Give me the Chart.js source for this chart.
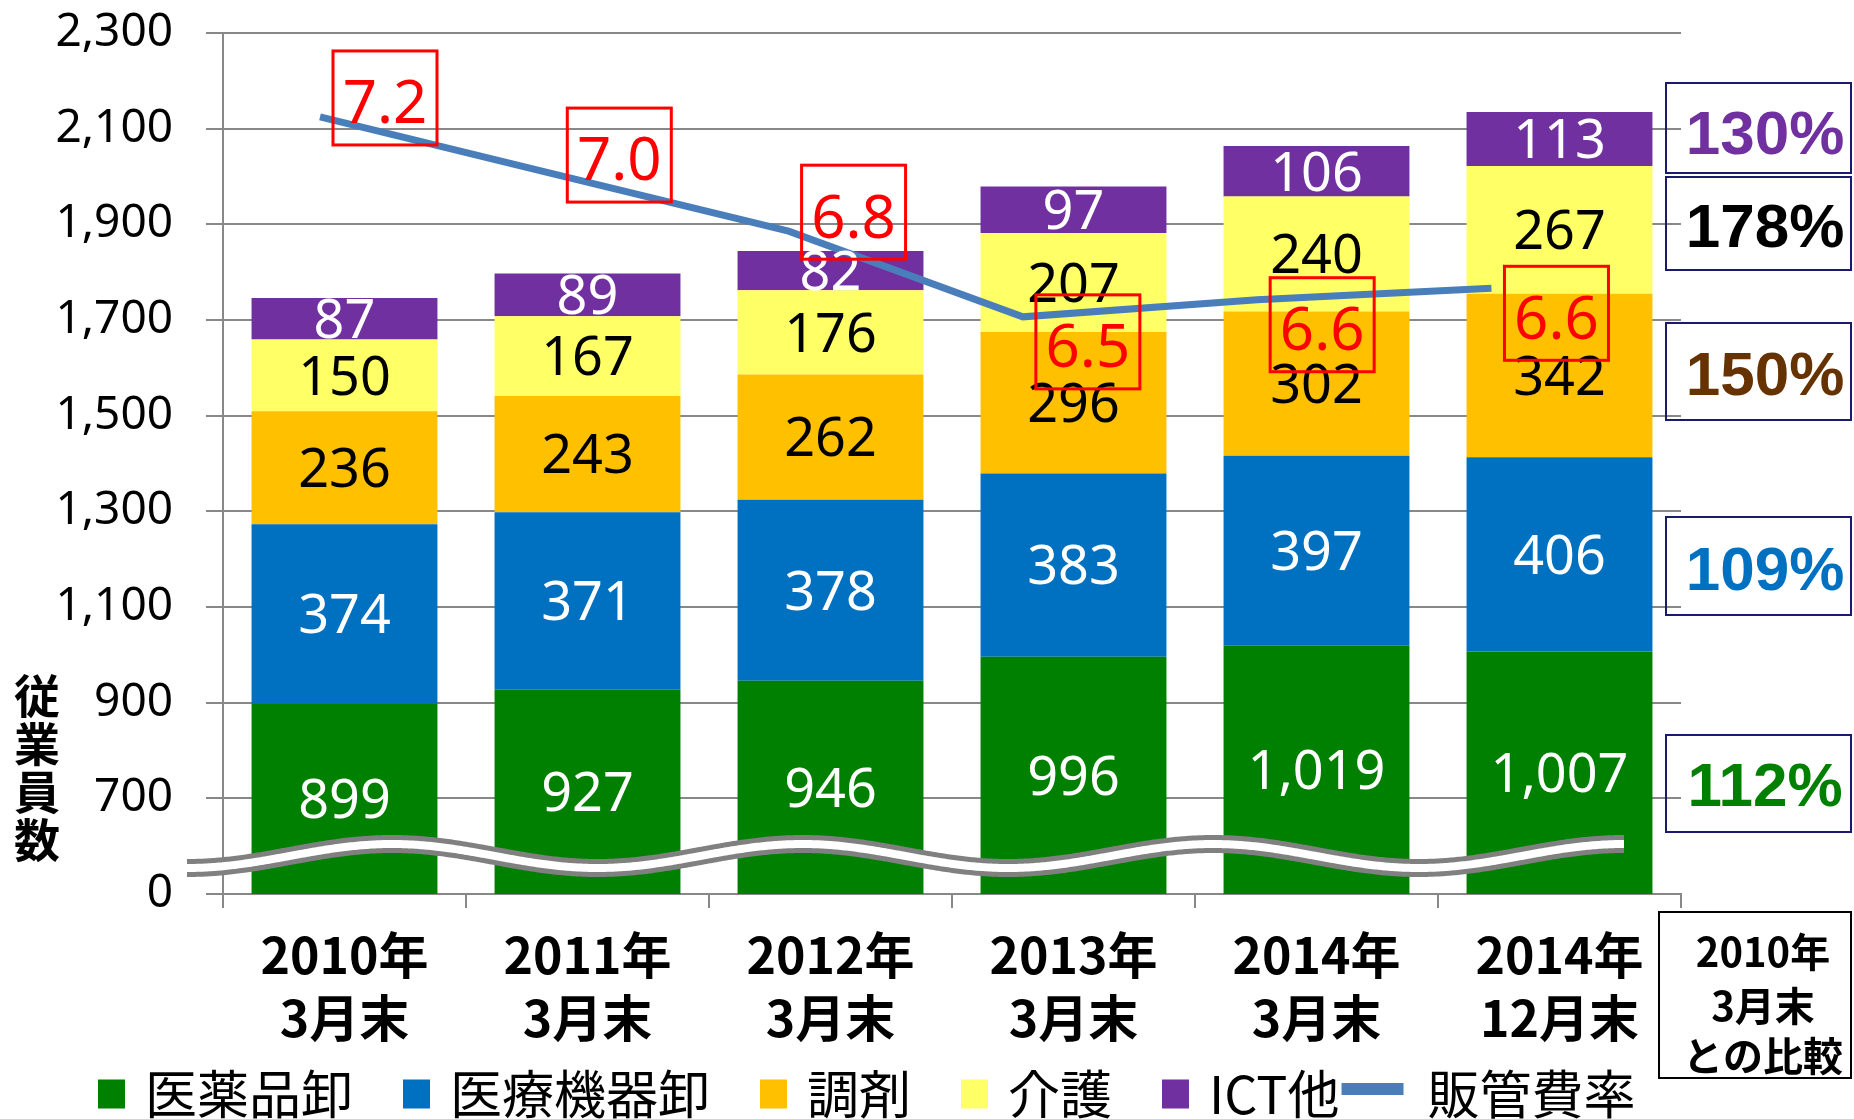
<!DOCTYPE html>
<html>
<head>
<meta charset="utf-8">
<script src="https://cdn.jsdelivr.net/npm/chart.js@4.4.0/dist/chart.umd.min.js"></script>
<style>
  html, body { margin: 0; padding: 0; background: #fff; }
  canvas { display: block; }
</style>
</head>
<body>
<canvas id="staff" width="1854" height="1119"></canvas>
<script>
// categories (two-line tick labels)
const categories = [['2010年', '3月末'], ['2011年', '3月末'], ['2012年', '3月末'],
                    ['2013年', '3月末'], ['2014年', '3月末'], ['2014年', '12月末']];

// stacked bar series (employees)
const drugWholesale   = [899, 927, 946, 996, 1019, 1007];
const deviceWholesale = [374, 371, 378, 383, 397, 406];
const pharmacy        = [236, 243, 262, 296, 302, 342];
const nursing         = [150, 167, 176, 207, 240, 267];
const ictOther        = [87, 89, 82, 97, 106, 113];

// line series (SG&A ratio)
const sgaRatio = [7.2, 7.0, 6.8, 6.5, 6.56, 6.6];

const seriesNames = ['医薬品卸', '医療機器卸', '調剤', '介護', 'ICT他', '販管費率'];

// broken y axis: bottom tick reads 0
const yTickLabels = ['0', '700', '900', '1,100', '1,300', '1,500', '1,700', '1,900', '2,100', '2,300'];

// comparison with 2010/3 (right side)
const compareLabels = ['130%', '178%', '150%', '109%', '112%'];
const compareNote = ['2010年', '3月末', 'との比較'];

const barColors = ['#008000', '#0070C0', '#FFC000', '#FFFF66', '#7030A0'];
const barTextColors = ['#fff', '#fff', '#000', '#000', '#fff'];
const lineColor = '#4A7EBB';
const compareColors = ['#7030A0', '#000000', '#663300', '#0070C0', '#008000'];

const NUM_FONT = '"Noto Sans", sans-serif';
const JP_FONT = '"Noto Sans CJK JP", sans-serif';

const overlay = {
  id: 'overlay',
  afterDatasetsDraw(chart) {
    const ctx = chart.ctx;
    const area = chart.chartArea;

    // wavy axis break ribbon
    ctx.save();
    const x0 = area.left - 36, x1 = area.right - 57;
    const yc = area.bottom - 38, amp = 12, period = (x1 - x0) / 3.5;
    ctx.beginPath();
    for (let x = x0; x < x1; x += 2) {
      const y = yc + amp * Math.cos(2 * Math.PI * (x - x0) / period);
      if (x === x0) ctx.moveTo(x, y); else ctx.lineTo(x, y);
    }
    ctx.lineTo(x1, yc + amp * Math.cos(2 * Math.PI * (x1 - x0) / period));
    ctx.lineCap = 'butt';
    ctx.strokeStyle = '#808080';
    ctx.lineWidth = 18;
    ctx.stroke();
    ctx.strokeStyle = '#ffffff';
    ctx.lineWidth = 8;
    ctx.stroke();

    // values inside bar segments
    ctx.font = '54px ' + NUM_FONT;
    ctx.textAlign = 'center';
    ctx.textBaseline = 'alphabetic';
    for (let d = 0; d < 5; d++) {
      const meta = chart.getDatasetMeta(d);
      const vals = chart.data.datasets[d].data;
      meta.data.forEach((bar, i) => {
        const bottom = Math.min(bar.base, area.bottom);
        const cy = (bar.y + bottom) / 2;
        ctx.fillStyle = barTextColors[d];
        ctx.fillText(vals[i].toLocaleString('en-US'), bar.x, cy + 0.357 * 54);
      });
    }

    // red boxed ratio labels
    const lm = chart.getDatasetMeta(5);
    ctx.font = '60px ' + NUM_FONT;
    lm.data.forEach((pt, i) => {
      const cx = pt.x + 65;
      const cy = pt.y + (i < 3 ? -19 : 25);
      ctx.strokeStyle = '#ff0000';
      ctx.lineWidth = 3;
      ctx.strokeRect(cx - 52, cy - 47, 104, 94);
      ctx.fillStyle = '#ff0000';
      ctx.fillText(sgaRatio[i].toFixed(1), cx, cy + 4 + 0.357 * 60);
    });
    ctx.restore();
  },
  afterDraw(chart) {
    const ctx = chart.ctx;
    ctx.save();

    // right side comparison boxes
    const boxes = [[83, 173, 132], [177, 270, 225], [323, 420, 373], [517, 615, 568], [735, 832, 784]];
    ctx.lineWidth = 2;
    boxes.forEach((b, i) => {
      ctx.strokeStyle = '#1a1a6e';
      ctx.strokeRect(1666, b[0], 185, b[1] - b[0]);
      ctx.fillStyle = compareColors[i];
      ctx.font = 'bold 62px "Liberation Sans", Arial, sans-serif';
      ctx.textAlign = 'center';
      ctx.textBaseline = 'alphabetic';
      ctx.fillText(compareLabels[i], 1765, b[2] + 0.358 * 62);
    });

    // note box
    ctx.strokeStyle = '#000';
    ctx.strokeRect(1659, 912, 192, 166);
    ctx.fillStyle = '#000';
    ctx.font = 'bold 40px ' + JP_FONT;
    ctx.textBaseline = 'middle';
    [952, 1006, 1056].forEach((y, i) => ctx.fillText(compareNote[i], 1763, y));

    // vertical y title
    ctx.font = 'bold 46px ' + JP_FONT;
    [...'従業員数'].forEach((ch, i) => ctx.fillText(ch, 37, 696 + i * 47.7));

    // legend
    ctx.font = '52px ' + JP_FONT;
    ctx.textAlign = 'left';
    const ly = 1094;
    let x = 98;
    chart.data.datasets.forEach((ds, d) => {
      if (ds.type === 'line') {
        ctx.fillStyle = ds.borderColor;
        ctx.fillRect(x, ly - 11, 62, 12);
        x += 62 + 24;
      } else {
        ctx.fillStyle = ds.backgroundColor;
        ctx.fillRect(x, ly - 14.5, 27, 29);
        x += 27 + 20;
      }
      ctx.fillStyle = '#000';
      ctx.fillText(ds.label, x, ly);
      const next = chart.data.datasets[d + 1];
      x += ctx.measureText(ds.label).width + (next && next.type === 'line' ? 2 : 50);
    });
    ctx.restore();
  }
};

const barSets = [drugWholesale, deviceWholesale, pharmacy, nursing, ictOther].map((vals, d) => ({
  label: seriesNames[d],
  data: vals,
  backgroundColor: barColors[d],
  borderWidth: 0,
  grouped: false,
  barPercentage: 0.765,
  categoryPercentage: 1.0,
  order: 1
}));

const lineSet = {
  type: 'line',
  label: seriesNames[5],
  data: sgaRatio.map((v, i) => ({ x: i, y: v })),
  xAxisID: 'x2',
  yAxisID: 'y2',
  borderColor: lineColor,
  borderWidth: 7,
  pointRadius: 0,
  tension: 0,
  fill: false,
  order: 0
};

new Chart(document.getElementById('staff'), {
  type: 'bar',
  data: { labels: categories, datasets: [...barSets, lineSet] },
  plugins: [overlay],
  options: {
    responsive: false,
    animation: false,
    devicePixelRatio: 1,
    layout: { padding: { top: 33, right: 173, bottom: 75, left: 0 } },
    plugins: { legend: { display: false }, tooltip: { enabled: false } },
    scales: {
      x: {
        stacked: true,
        grid: { offset: true, drawOnChartArea: false, tickLength: 14, color: '#888', lineWidth: 2 },
        border: { color: '#888', width: 2 },
        ticks: {
          color: '#000',
          font: { family: JP_FONT, size: 50, weight: 'bold', lineHeight: 1.26 },
          padding: 15,
          maxRotation: 0,
          autoSkip: false
        },
        afterFit(scale) { scale.height = 150; }
      },
      y: {
        stacked: true,
        min: 500,
        max: 2300,
        grid: { color: '#888', lineWidth: 2, tickLength: 17 },
        border: { color: '#888', width: 2 },
        ticks: {
          stepSize: 200,
          color: '#000',
          padding: 33,
          font: { family: NUM_FONT, size: 46 },
          callback: (v, i) => yTickLabels[i]
        },
        afterFit(scale) { scale.width = 223; scale.paddingTop = 0; scale.paddingBottom = 0; }
      },
      x2: { type: 'linear', display: false, offset: false, bounds: 'data', min: -0.414, max: 5.809 },
      y2: { type: 'linear', display: false, offset: false, bounds: 'data', min: 4.479, max: 7.494 }
    }
  }
});
</script>
</body>
</html>
